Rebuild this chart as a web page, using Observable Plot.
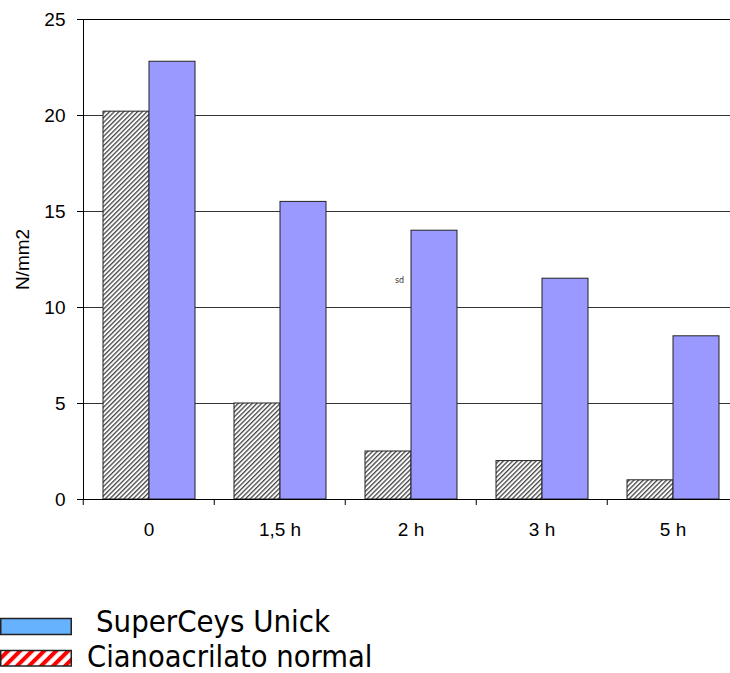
<!DOCTYPE html>
<html>
<head>
<meta charset="utf-8">
<script src="https://cdn.jsdelivr.net/npm/d3@7"></script>
<script src="https://cdn.jsdelivr.net/npm/@observablehq/plot@0.6"></script>
<style>
  html, body { margin: 0; padding: 0; background: #fff; }
  #wrap { position: relative; width: 730px; height: 673px; overflow: hidden; background: #fff; }
  #wrap svg { display: block; }
</style>
</head>
<body>
<div id="wrap"></div>
<script>
// ---- data ----
const categories = ["0", "1,5 h", "2 h", "3 h", "5 h"];
const seriesNames = ["Cianoacrilato normal", "SuperCeys Unick"];
const cianoacrilato = [20.2, 5, 2.5, 2, 1];
const superceys = [22.8, 15.5, 14, 11.5, 8.5];
const yTicks = [0, 5, 10, 15, 20, 25];
const yLabel = "N/mm2";
const noteData = [{cat: "2 h", series: "Cianoacrilato normal", y: 11.4, label: "sd"}];
const legendLabels = ["SuperCeys Unick", "Cianoacrilato normal"];

const hatched = categories.map((c, i) => ({cat: c, series: seriesNames[0], value: cianoacrilato[i]}));
const solid = categories.map((c, i) => ({cat: c, series: seriesNames[1], value: superceys[i]}));

const plot = Plot.plot({
  width: 730,
  height: 560,
  marginLeft: 82,
  marginRight: -9.5,
  marginTop: 19,
  marginBottom: 61,
  style: {fontFamily: "'Liberation Sans', Arial, sans-serif", fontSize: "19px", background: "transparent", color: "#000"},
  fx: {domain: categories, padding: 0, label: null},
  x: {domain: seriesNames, paddingInner: 0, paddingOuter: 0.4, axis: null},
  y: {domain: [0, 25], label: null},
  marks: [
    Plot.ruleY(yTicks.filter(t => t > 0 && t < 25), {stroke: "#333", strokeWidth: 1}),
    Plot.ruleY([25], {stroke: "#000", strokeWidth: 1}),
    Plot.barY(hatched, {fx: "cat", x: "series", y: "value", fill: "url(#hatch)", stroke: "#222", strokeWidth: 1}),
    Plot.barY(solid, {fx: "cat", x: "series", y: "value", fill: "#9999ff", stroke: "#222", strokeWidth: 1}),
    Plot.ruleY([0], {stroke: "#000", strokeWidth: 1}),
    Plot.frame({anchor: "left", facetAnchor: "left", stroke: "#000"}),
    Plot.text(noteData, {fx: "cat", x: "series", y: "y", text: "label", dx: 11, fontSize: 8, fill: "#333", fontFamily: "'DejaVu Sans', sans-serif"}),
    Plot.axisY({ticks: yTicks, tickSize: 6, tickPadding: 12, label: yLabel, labelAnchor: "center", labelArrow: "none", labelOffset: 68, stroke: "#000", fontSize: 19}),
    Plot.axisFx({anchor: "bottom", tickSize: 6, tickFormat: () => "", dx: -65.75, label: null, stroke: "#000"}),
    Plot.axisFx({anchor: "bottom", tickSize: 0, tickPadding: 23, label: null, fontSize: 19, style: "letter-spacing:1.2px"})
  ]
});

// hatch pattern for the "Cianoacrilato normal" bars
const defs = d3.select(plot).insert("defs", ":first-child");
const pat = defs.append("pattern")
  .attr("id", "hatch")
  .attr("patternUnits", "userSpaceOnUse")
  .attr("width", 3.3).attr("height", 3.3)
  .attr("patternTransform", "rotate(45)");
pat.append("rect").attr("width", 3.3).attr("height", 3.3).attr("fill", "#fff");
pat.append("line").attr("x1", 0.7).attr("y1", 0).attr("x2", 0.7).attr("y2", 3.3)
  .attr("stroke", "#222").attr("stroke-width", 1.1);

const wrap = document.getElementById("wrap");
wrap.appendChild(plot);

// legend (drawn below the plot)
const legend = d3.select(wrap).append("svg")
  .attr("width", 730).attr("height", 113)
  .style("position", "absolute").style("left", "0px").style("top", "560px");
const ldefs = legend.append("defs");
const rp = ldefs.append("pattern")
  .attr("id", "redstripe")
  .attr("patternUnits", "userSpaceOnUse")
  .attr("width", 8.5).attr("height", 8.5)
  .attr("patternTransform", "rotate(45)");
rp.append("rect").attr("width", 8.5).attr("height", 8.5).attr("fill", "#fff");
rp.append("rect").attr("x", 0).attr("y", 0).attr("width", 4).attr("height", 8.5).attr("fill", "#ff0000");

legend.append("rect").attr("x", 0.75).attr("y", 58.5).attr("width", 70.5).attr("height", 16)
  .attr("fill", "#66b2ff").attr("stroke", "#222").attr("stroke-width", 1.5);
legend.append("rect").attr("x", 0.75).attr("y", 90.5).attr("width", 70.5).attr("height", 15.5)
  .attr("fill", "url(#redstripe)").attr("stroke", "#222").attr("stroke-width", 1.5);

legend.append("text").attr("x", 96).attr("y", 72)
  .attr("font-family", "'DejaVu Sans Condensed', 'DejaVu Sans', sans-serif")
  .attr("font-size", 30.8).attr("fill", "#000").text(legendLabels[0]);
legend.append("text").attr("x", 87).attr("y", 107)
  .attr("font-family", "'DejaVu Sans Condensed', 'DejaVu Sans', sans-serif")
  .attr("font-size", 30.5).attr("fill", "#000").text(legendLabels[1]);
</script>
</body>
</html>
